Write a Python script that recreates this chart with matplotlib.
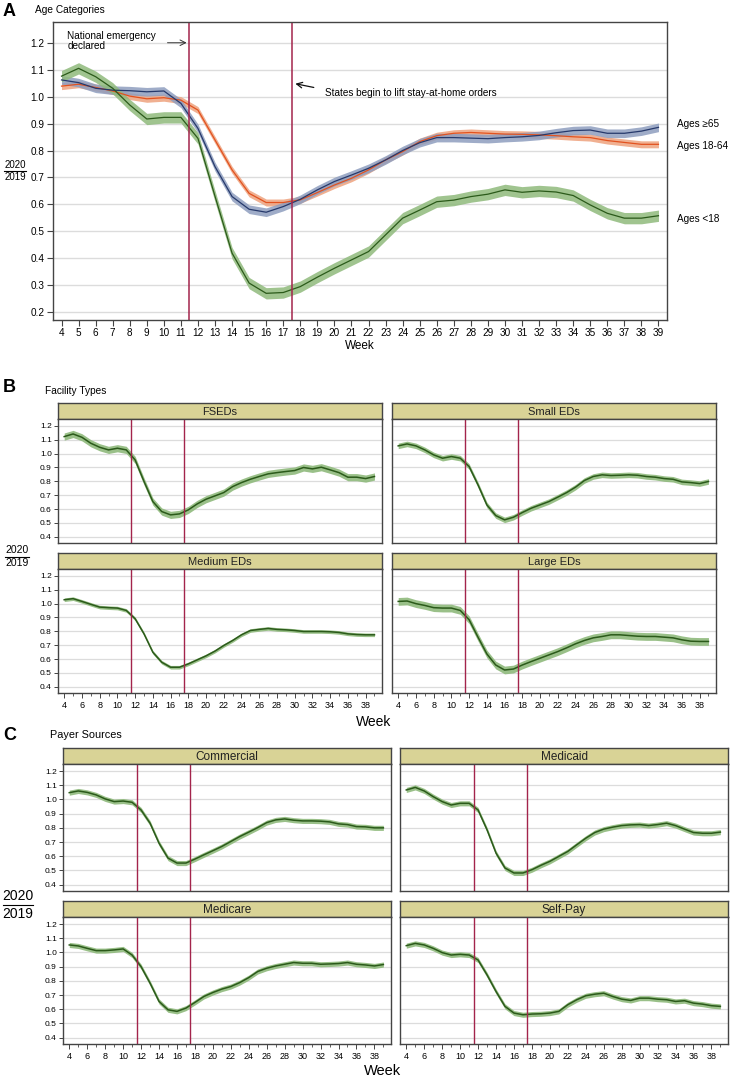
import numpy as np
import matplotlib.pyplot as plt
from matplotlib.lines import Line2D

plt.rcParams['font.family'] = ['Liberation Sans', 'DejaVu Sans']

W, H = 730, 1079
weeks = np.arange(4, 40)

# ---- Panel A: age categories (2020/2019 ratio by week)
age_65 = [1.062, 1.052, 1.031, 1.024, 1.022, 1.018, 1.021, 0.975, 0.882, 0.740,
          0.629, 0.582, 0.571, 0.592, 0.619, 0.654, 0.685, 0.709, 0.734, 0.765,
          0.800, 0.829, 0.848, 0.848, 0.846, 0.844, 0.848, 0.851, 0.856, 0.866,
          0.874, 0.876, 0.864, 0.864, 0.872, 0.886]
age_18_64 = [1.039, 1.046, 1.034, 1.021, 1.002, 0.992, 0.996, 0.987, 0.950, 0.839,
             0.728, 0.641, 0.607, 0.607, 0.617, 0.644, 0.672, 0.697, 0.728, 0.765,
             0.796, 0.833, 0.855, 0.864, 0.867, 0.864, 0.861, 0.860, 0.858, 0.855,
             0.851, 0.848, 0.837, 0.830, 0.823, 0.823]
age_lt18 = [1.076, 1.105, 1.074, 1.031, 0.969, 0.917, 0.923, 0.923, 0.845, 0.630,
            0.419, 0.308, 0.270, 0.273, 0.295, 0.330, 0.363, 0.394, 0.425, 0.487,
            0.549, 0.579, 0.610, 0.616, 0.629, 0.638, 0.654, 0.645, 0.650, 0.646,
            0.633, 0.598, 0.567, 0.549, 0.549, 0.558]
age_ci = {'65': 0.016, '18-64': 0.013, '<18': 0.021}

# ---- Panel B: facility types
fseds = [1.123, 1.142, 1.118, 1.075, 1.046, 1.027, 1.039, 1.027, 0.955, 0.800,
         0.654, 0.582, 0.558, 0.565, 0.594, 0.637, 0.671, 0.695, 0.719, 0.762,
         0.791, 0.815, 0.835, 0.854, 0.863, 0.871, 0.878, 0.900, 0.890, 0.902,
         0.883, 0.863, 0.830, 0.830, 0.820, 0.835]
small_eds = [1.056, 1.070, 1.056, 1.027, 0.991, 0.967, 0.979, 0.967, 0.907, 0.775,
             0.630, 0.553, 0.522, 0.541, 0.575, 0.606, 0.630, 0.654, 0.686, 0.719,
             0.758, 0.806, 0.835, 0.847, 0.842, 0.844, 0.847, 0.844, 0.835, 0.830,
             0.820, 0.815, 0.796, 0.791, 0.784, 0.799]
medium_eds = [1.028, 1.036, 1.016, 0.995, 0.975, 0.971, 0.968, 0.951, 0.891, 0.782,
              0.649, 0.577, 0.541, 0.541, 0.565, 0.594, 0.623, 0.657, 0.698, 0.734,
              0.775, 0.806, 0.814, 0.821, 0.814, 0.811, 0.806, 0.799, 0.799, 0.799,
              0.797, 0.792, 0.782, 0.777, 0.775, 0.775]
large_eds = [1.016, 1.019, 1.000, 0.987, 0.971, 0.968, 0.968, 0.951, 0.884, 0.758,
             0.637, 0.557, 0.521, 0.528, 0.557, 0.582, 0.606, 0.630, 0.654, 0.681,
             0.710, 0.734, 0.753, 0.763, 0.775, 0.775, 0.770, 0.765, 0.763, 0.763,
             0.758, 0.753, 0.739, 0.729, 0.727, 0.727]
facility_names = ['FSEDs', 'Small EDs', 'Medium EDs', 'Large EDs']
facility_vals = [fseds, small_eds, medium_eds, large_eds]
facility_ci = [0.026, 0.02, 0.013, 0.028]

# ---- Panel C: payer sources
commercial = [1.048, 1.060, 1.050, 1.032, 1.004, 0.985, 0.989, 0.980, 0.926, 0.833,
              0.692, 0.587, 0.552, 0.552, 0.580, 0.610, 0.639, 0.669, 0.704, 0.739,
              0.770, 0.802, 0.837, 0.856, 0.863, 0.854, 0.849, 0.849, 0.847, 0.842,
              0.828, 0.823, 0.809, 0.807, 0.800, 0.800]
medicaid = [1.067, 1.085, 1.060, 1.020, 0.985, 0.961, 0.973, 0.973, 0.926, 0.786,
            0.622, 0.517, 0.482, 0.482, 0.505, 0.536, 0.564, 0.599, 0.634, 0.681,
            0.727, 0.767, 0.791, 0.805, 0.816, 0.821, 0.823, 0.816, 0.823, 0.833,
            0.816, 0.791, 0.767, 0.762, 0.762, 0.770]
medicare = [1.053, 1.046, 1.029, 1.013, 1.013, 1.018, 1.025, 0.982, 0.900, 0.784,
            0.655, 0.596, 0.585, 0.608, 0.648, 0.690, 0.718, 0.742, 0.760, 0.788,
            0.823, 0.866, 0.889, 0.905, 0.917, 0.929, 0.924, 0.924, 0.917, 0.919,
            0.922, 0.929, 0.917, 0.912, 0.905, 0.915]
self_pay = [1.048, 1.064, 1.053, 1.029, 0.999, 0.982, 0.987, 0.982, 0.947, 0.842,
            0.725, 0.620, 0.573, 0.561, 0.566, 0.568, 0.573, 0.585, 0.632, 0.667,
            0.695, 0.706, 0.713, 0.690, 0.671, 0.662, 0.678, 0.678, 0.671, 0.667,
            0.655, 0.660, 0.643, 0.636, 0.625, 0.620]
payer_names = ['Commercial', 'Medicaid', 'Medicare', 'Self-Pay']
payer_vals = [commercial, medicaid, medicare, self_pay]
payer_ci = [0.018, 0.018, 0.018, 0.018]

events = [11.5, 17.5]

GREEN_LINE, GREEN_BAND = '#2b5a1a', '#8fba7c'
ORANGE_LINE, ORANGE_BAND = '#e2521f', '#eea27e'
BLUE_LINE, BLUE_BAND = '#26396b', '#8e9ebf'
VLINE = '#a3244c'
GRID = '#dcdcdc'
SPINE = '#444444'
STRIP = '#d9d396'


def box(l, t, r, b):
    return [l / W, 1 - b / H, (r - l) / W, (b - t) / H]


def fx(x):
    return x / W


def fy(y):
    return 1 - y / H


def fraction_label(fig, xc, y_line, half, size):
    fig.text(fx(xc), fy(y_line - 1.5), '2020', ha='center', va='bottom', fontsize=size)
    fig.text(fx(xc), fy(y_line + 1.5), '2019', ha='center', va='top', fontsize=size)
    fig.add_artist(Line2D([fx(xc - half), fx(xc + half)], [fy(y_line), fy(y_line)],
                          color='black', lw=0.8))


def style_spines(ax):
    for s in ax.spines.values():
        s.set_color(SPINE)
        s.set_linewidth(1.0)


fig = plt.figure(figsize=(W / 100, H / 100), dpi=100)

# ================= Panel A =================
ax = fig.add_axes(box(53, 22, 667, 320))
ax.set_axisbelow(True)
ax.yaxis.grid(True, color=GRID, lw=1.0)
series = [(age_18_64, age_ci['18-64'], ORANGE_LINE, ORANGE_BAND),
          (age_65, age_ci['65'], BLUE_LINE, BLUE_BAND),
          (age_lt18, age_ci['<18'], GREEN_LINE, GREEN_BAND)]
for vals, ci, lc, bc in series:
    v = np.array(vals)
    ax.fill_between(weeks, v - ci, v + ci, color=bc, lw=0, alpha=0.85)
for vals, ci, lc, bc in series:
    ax.plot(weeks, vals, color=lc, lw=0.9)
for e in events:
    ax.axvline(e, color=VLINE, lw=1.1)
ax.set_xlim(3.5, 39.5)
ax.set_ylim(0.171, 1.277)
ax.set_yticks(np.round(np.arange(0.2, 1.21, 0.1), 1))
ax.set_yticklabels([f'{t:.1f}' for t in np.arange(0.2, 1.21, 0.1)])
ax.set_xticks(weeks)
ax.tick_params(axis='both', labelsize=7.2, length=4, width=0.8, color=SPINE, pad=2)
ax.set_xlabel('Week', fontsize=8.5, labelpad=1)
style_spines(ax)

ax.text(4.35, 1.207, 'National emergency\ndeclared', fontsize=7.2, ha='left', va='center',
        linespacing=0.95)
ax.annotate('', xy=(11.5, 1.2), xytext=(10.05, 1.2),
            arrowprops=dict(arrowstyle='->', color='#333333', lw=0.7))
ax.text(19.45, 1.013, 'States begin to lift stay-at-home orders', fontsize=7.2,
        ha='left', va='center')
ax.annotate('', xy=(17.55, 1.05), xytext=(18.95, 1.032),
            arrowprops=dict(arrowstyle='->', color='#111111', lw=0.9))
for lab, yv in [('Ages ≥65', 0.898), ('Ages 18-64', 0.817), ('Ages <18', 0.546)]:
    ax.text(40.1, yv, lab, fontsize=7.2, ha='left', va='center', clip_on=False)

fig.text(fx(3), fy(12), 'A', fontsize=13, fontweight='bold', va='center')
fig.text(fx(35), fy(10), 'Age Categories', fontsize=7.3, va='center')
fraction_label(fig, 15, 171, 11, 7)


# ================= Facet helper =================
def facet(l, th, tp, r, b, title, vals, ci, show_y, show_x, title_size):
    hax = fig.add_axes(box(l, th, r, tp))
    hax.set_facecolor(STRIP)
    hax.set_xticks([])
    hax.set_yticks([])
    style_spines(hax)
    hax.text(0.5, 0.45, title, transform=hax.transAxes, ha='center', va='center',
             fontsize=title_size, color='#222222')

    a = fig.add_axes(box(l, tp, r, b))
    a.set_axisbelow(True)
    a.yaxis.grid(True, color=GRID, lw=0.9)
    v = np.array(vals)
    a.fill_between(weeks, v - ci, v + ci, color=GREEN_BAND, lw=0, alpha=0.9)
    a.plot(weeks, v, color=GREEN_LINE, lw=1.1)
    for e in events:
        a.axvline(e, color=VLINE, lw=1.0)
    a.set_xlim(3.3, 39.85)
    a.set_ylim(0.355, 1.25)
    yt = np.arange(0.4, 1.21, 0.1)
    a.set_yticks(yt)
    a.set_xticks(np.arange(4, 39, 2))
    a.set_xticks(np.arange(5, 40, 2), minor=True)
    if show_y:
        a.set_yticklabels([f'{t:.1f}' for t in yt])
        a.tick_params(axis='y', labelsize=6, length=3, width=0.7, color=SPINE, pad=1.5)
    else:
        a.tick_params(axis='y', left=False, labelleft=False)
    if show_x:
        a.tick_params(axis='x', which='major', labelsize=6.5, length=3.5, width=0.7,
                      color=SPINE, pad=2)
        a.tick_params(axis='x', which='minor', length=2, width=0.6, color=SPINE)
    else:
        a.tick_params(axis='x', which='both', bottom=False, labelbottom=False)
    style_spines(a)
    return a


# ================= Panel B =================
cols_b = [(58, 382), (392, 716)]
rows_b = [(403, 419, 543), (553, 569, 693)]
for i, (name, vals, ci) in enumerate(zip(facility_names, facility_vals, facility_ci)):
    r_i, c_i = divmod(i, 2)
    th, tp, bt = rows_b[r_i]
    l, r = cols_b[c_i]
    facet(l, th, tp, r, bt, name, vals, ci, c_i == 0, r_i == 1, 8)

fig.text(fx(3), fy(388), 'B', fontsize=13, fontweight='bold', va='center')
fig.text(fx(45), fy(391), 'Facility Types', fontsize=7.3, va='center')
fig.text(fx(374), fy(722), 'Week', fontsize=10, ha='center', va='center')
fraction_label(fig, 17, 556.5, 12, 7.5)

# ================= Panel C =================
cols_c = [(63, 391), (400, 728)]
rows_c = [(748, 764, 891), (901, 917, 1044)]
for i, (name, vals, ci) in enumerate(zip(payer_names, payer_vals, payer_ci)):
    r_i, c_i = divmod(i, 2)
    th, tp, bt = rows_c[r_i]
    l, r = cols_c[c_i]
    facet(l, th, tp, r, bt, name, vals, ci, c_i == 0, r_i == 1, 8.5)

fig.text(fx(3), fy(735), 'C', fontsize=13, fontweight='bold', va='center')
fig.text(fx(50), fy(735), 'Payer Sources', fontsize=7.8, va='center')
fig.text(fx(383), fy(1071), 'Week', fontsize=10.5, ha='center', va='center')
fraction_label(fig, 18, 905, 15, 10)

fig.savefig('out.png', dpi=100)
